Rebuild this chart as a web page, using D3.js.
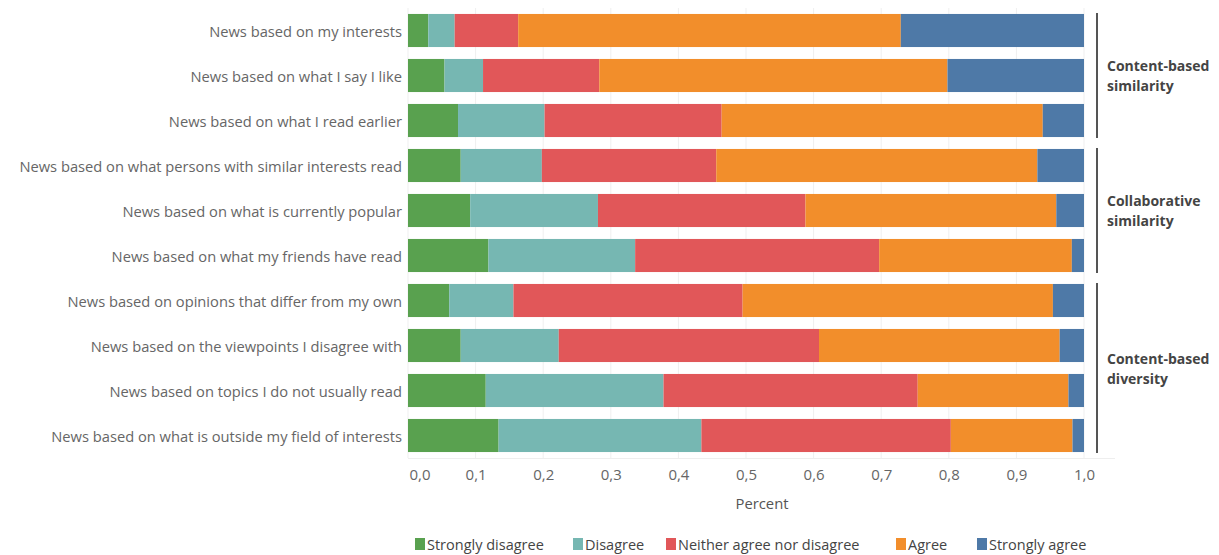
<!DOCTYPE html>
<html>
<head>
<meta charset="utf-8">
<script src="https://cdn.jsdelivr.net/npm/d3@7"></script>
<style>
  html, body { margin: 0; padding: 0; background: #fff; }
  svg { display: block; }
  text { font-family: "Open Sans", sans-serif; }
</style>
</head>
<body>
<svg id="chart" width="1219" height="555"></svg>
<script>
// ---- Data ----
const categories = [
  "News based on my interests",
  "News based on what I say I like",
  "News based on what I read earlier",
  "News based on what persons with similar interests read",
  "News based on what is currently popular",
  "News based on what my friends have read",
  "News based on opinions that differ from my own",
  "News based on the viewpoints I disagree with",
  "News based on topics I do not usually read",
  "News based on what is outside my field of interests"
];
const seriesNames = ["Strongly disagree", "Disagree", "Neither agree nor disagree", "Agree", "Strongly agree"];
const stronglyDisagree = [0.030, 0.054, 0.074, 0.078, 0.092, 0.119, 0.061, 0.078, 0.115, 0.134];
const disagree         = [0.039, 0.057, 0.128, 0.120, 0.189, 0.217, 0.095, 0.145, 0.263, 0.300];
const neither          = [0.094, 0.172, 0.262, 0.258, 0.307, 0.361, 0.339, 0.385, 0.376, 0.369];
const agree            = [0.566, 0.515, 0.475, 0.475, 0.371, 0.285, 0.459, 0.356, 0.223, 0.180];
const stronglyAgree    = [0.271, 0.202, 0.061, 0.069, 0.041, 0.018, 0.046, 0.036, 0.023, 0.017];
const tickValues = [0, 0.1, 0.2, 0.3, 0.4, 0.5, 0.6, 0.7, 0.8, 0.9, 1.0];
const tickLabels = ["0,0", "0,1", "0,2", "0,3", "0,4", "0,5", "0,6", "0,7", "0,8", "0,9", "1,0"];
const groups = [
  { lines: ["Content-based", "similarity"], first: 0, last: 2 },
  { lines: ["Collaborative", "similarity"], first: 3, last: 5 },
  { lines: ["Content-based", "diversity"], first: 6, last: 9 }
];
const colors = ["#59A14F", "#76B7B2", "#E15759", "#F28E2B", "#4E79A7"];
const axisTitle = "Percent";

// ---- Build table ----
const seriesArrays = [stronglyDisagree, disagree, neither, agree, stronglyAgree];
const table = categories.map((c, i) => {
  const row = { category: c };
  seriesNames.forEach((s, k) => row[s] = seriesArrays[k][i]);
  return row;
});
const stacked = d3.stack().keys(seriesNames)(table);

const svg = d3.select("#chart");
const x = d3.scaleLinear().domain([0, 1]).range([408, 1084]);
const y = d3.scaleBand().domain(categories).range([8, 458]).paddingInner(0.265).paddingOuter(0.1325);
const color = d3.scaleOrdinal().domain(seriesNames).range(colors);

// gridlines
svg.append("g").selectAll("line").data(tickValues).join("line")
  .attr("x1", d => x(d)).attr("x2", d => x(d))
  .attr("y1", 8).attr("y2", 458)
  .attr("stroke", "#efefef").attr("stroke-width", 1);
// bottom baseline
svg.append("line").attr("x1", x(0)).attr("x2", 1115).attr("y1", 458.5).attr("y2", 458.5)
  .attr("stroke", "#eeeeee");

// bars
svg.append("g").selectAll("g").data(stacked).join("g")
  .attr("fill", d => color(d.key))
  .selectAll("rect").data(d => d).join("rect")
  .attr("x", d => x(d[0]))
  .attr("width", d => x(d[1]) - x(d[0]))
  .attr("y", d => y(d.data.category))
  .attr("height", y.bandwidth());

// category labels
svg.append("g").selectAll("text").data(categories).join("text")
  .attr("x", 402).attr("y", d => y(d) + y.bandwidth() / 2)
  .attr("text-anchor", "end").attr("dominant-baseline", "central")
  .attr("font-size", 14.7).attr("fill", "#666")
  .text(d => d);

// x axis tick labels
const xAxis = d3.axisBottom(x).tickValues(tickValues).tickFormat((d, i) => tickLabels[i]).tickSize(0).tickPadding(0);
const ax = svg.append("g").attr("transform", "translate(0,466)").call(xAxis);
ax.select(".domain").remove();
ax.selectAll("text").attr("font-size", 15).attr("fill", "#666").attr("font-family", "Open Sans, sans-serif")
  .attr("dy", "0.9em");
ax.selectAll(".tick").filter(d => d === 0).select("text").attr("text-anchor", "start").attr("dx", 1);

// axis title
svg.append("text").attr("x", 762).attr("y", 503).attr("text-anchor", "middle")
  .attr("dominant-baseline", "central").attr("font-size", 14.8).attr("fill", "#555").text(axisTitle);

// group brackets
const gg = svg.append("g");
gg.selectAll("line").data(groups).join("line")
  .attr("x1", 1097).attr("x2", 1097)
  .attr("y1", d => y(categories[d.first]) - 1)
  .attr("y2", d => y(categories[d.last]) + y.bandwidth() + 1)
  .attr("stroke", "#555").attr("stroke-width", 2);
gg.selectAll("text").data(groups).join("text")
  .attr("x", 1107)
  .attr("font-size", 14).attr("font-weight", "bold").attr("fill", "#444")
  .each(function(d) {
    const mid = (y(categories[d.first]) + y(categories[d.last]) + y.bandwidth()) / 2;
    d3.select(this).selectAll("tspan").data(d.lines).join("tspan")
      .attr("x", 1107)
      .attr("y", (t, i) => mid - 10 + i * 20)
      .attr("dominant-baseline", "central")
      .text(t => t);
  });

// legend
const legendX = [415, 573, 666, 896, 977];
const lg = svg.append("g").selectAll("g").data(seriesNames).join("g")
  .attr("transform", (d, i) => `translate(${legendX[i]},544)`);
lg.append("rect").attr("x", 0).attr("y", -6).attr("width", 10).attr("height", 12).attr("fill", d => color(d));
lg.append("text").attr("x", 12).attr("y", 0).attr("dominant-baseline", "central")
  .attr("font-size", 14.5).attr("fill", "#444").text(d => d);
</script>
</body>
</html>
